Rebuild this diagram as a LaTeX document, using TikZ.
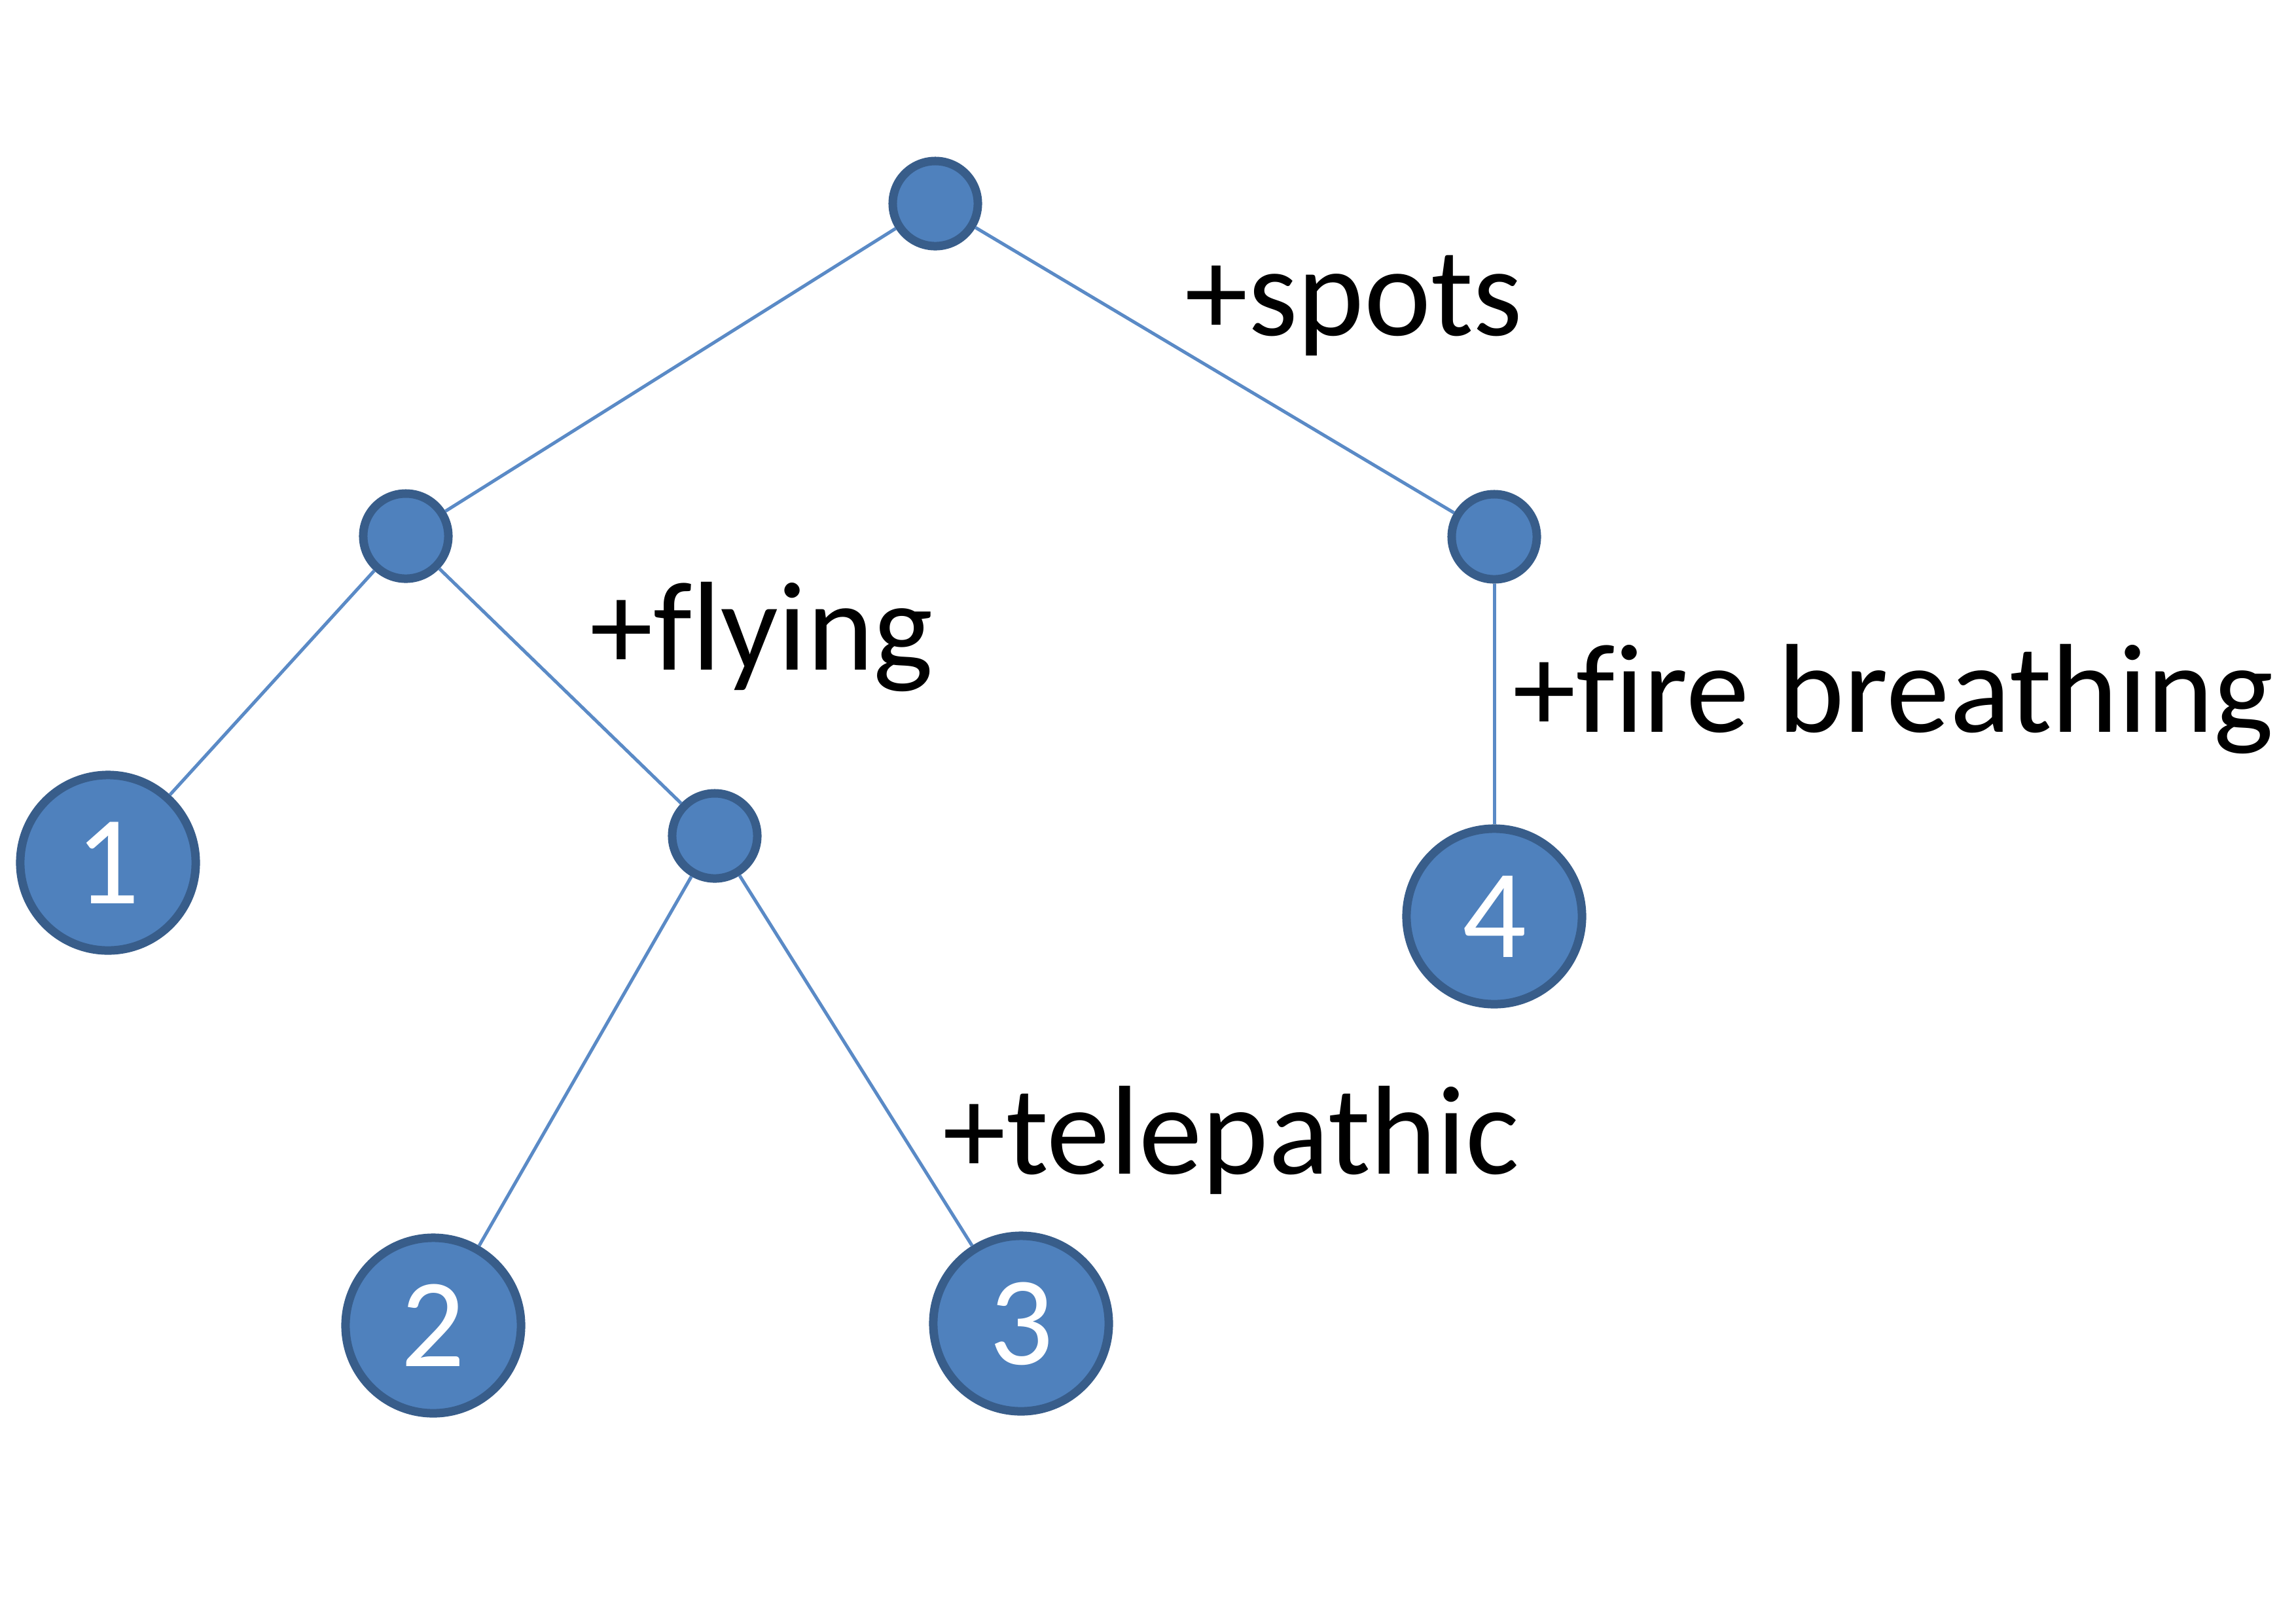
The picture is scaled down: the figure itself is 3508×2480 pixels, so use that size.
\documentclass[tikz,border=0pt]{standalone}
\usepackage{fontspec}
\setmainfont{Carlito}[Ligatures=NoCommon]
\definecolor{nodefill}{HTML}{4F81BD}
\definecolor{nodeedge}{HTML}{385D8A}
\definecolor{linkcol}{HTML}{5A8AC6}
\begin{document}
\begin{tikzpicture}[x=0.01cm,y=-0.01cm,
  smallnode/.style={circle,fill=nodefill,draw=nodeedge,line width=0.13cm,minimum size=1.30cm,inner sep=0pt},
  leafnode/.style={circle,fill=nodefill,draw=nodeedge,line width=0.13cm,minimum size=2.68cm,inner sep=0pt,text=white,font=\fontsize{55}{60}\selectfont},
  link/.style={draw=linkcol,line width=0.05cm},
  lbl/.style={anchor=base west,inner sep=0pt,font=\fontsize{55}{60}\selectfont}]
\useasboundingbox (0,0) rectangle (3508,2480);
\fill[white] (0,0) rectangle (3508,2480);
% nodes
\node[smallnode] (root) at (1429,311) {};
\node[smallnode] (lmid) at (620,819) {};
\node[smallnode] (rmid) at (2283,820) {};
\node[smallnode] (inner) at (1092,1277) {};
\node[leafnode] (n1) at (165,1318) {1};
\node[leafnode] (n4) at (2283,1400) {4};
\node[leafnode] (n2) at (662,2025) {2};
\node[leafnode] (n3) at (1560,2022) {3};
% connectors
\draw[link] (root) -- (lmid);
\draw[link] (root) -- (rmid);
\draw[link] (lmid) -- (n1);
\draw[link] (lmid) -- (inner);
\draw[link] (inner) -- (n2);
\draw[link] (inner) -- (n3);
\draw[link] (rmid) -- (n4);
% labels
\node[lbl] (lspots) at (1810,512) {+spots};
\node[lbl] (lflying) at (901,1023) {+flying};
\node[lbl] (lfire) at (2311,1118) {+fire breathing};
\node[lbl] (ltele) at (1440,1793) {+telepathic};
\end{tikzpicture}
\end{document}
